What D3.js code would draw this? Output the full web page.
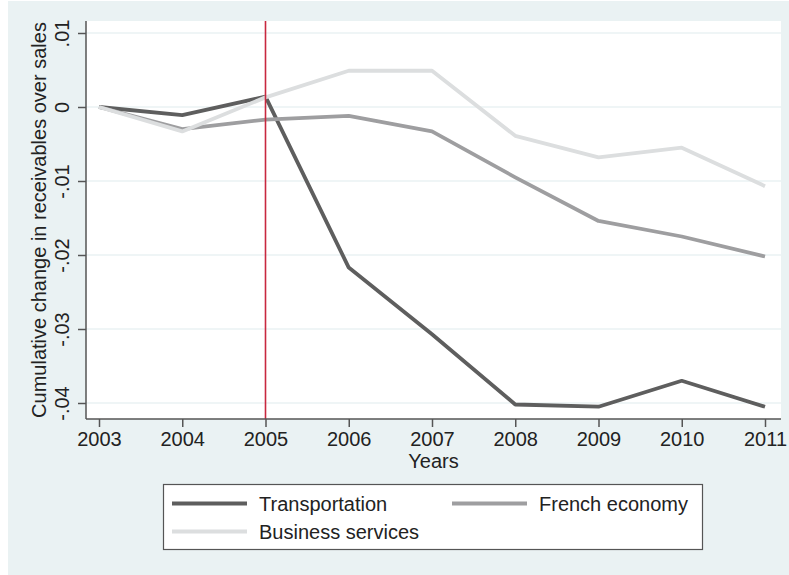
<!DOCTYPE html>
<html>
<head>
<meta charset="utf-8">
<script src="https://cdn.jsdelivr.net/npm/d3@7"></script>
<style>
    body { margin: 0; background: #ffffff; }
    svg { display: block; font-family: "Liberation Sans", Arial, sans-serif; }
</style>
</head>
<body>
<svg id="chart" width="789" height="575"></svg>
<script>
const years = [2003, 2004, 2005, 2006, 2007, 2008, 2009, 2010, 2011];
const transportation = [0, -0.0011, 0.0014, -0.0217, -0.0307, -0.0402, -0.0405, -0.0370, -0.0405];
const frenchEconomy = [0, -0.0030, -0.0017, -0.0012, -0.0033, -0.0095, -0.0154, -0.0175, -0.0202];
const businessServices = [0, -0.0033, 0.0013, 0.0049, 0.0049, -0.0039, -0.0068, -0.0055, -0.0107];
const yTicks = [-0.04, -0.03, -0.02, -0.01, 0, 0.01];
const yTickLabels = ["-.04", "-.03", "-.02", "-.01", "0", ".01"];
const eventYear = 2005;

const series = [
    { name: "Transportation", values: transportation, color: "#5e5e5e" },
    { name: "French economy", values: frenchEconomy, color: "#9e9ea0" },
    { name: "Business services", values: businessServices, color: "#dcdedf" },
];

const FONT = 20;

function renderChart() {
    const svg = d3.select("#chart");
    const plot = { left: 86, right: 781, top: 21, bottom: 419 };

    svg.append("rect")
        .attr("x", 8).attr("y", 1)
        .attr("width", 781).attr("height", 574)
        .attr("fill", "#eaf2f3");

    svg.append("rect")
        .attr("x", plot.left).attr("y", plot.top)
        .attr("width", plot.right - plot.left).attr("height", plot.bottom - plot.top)
        .attr("fill", "#ffffff");

    const x = d3.scaleLinear()
        .domain([2003, 2011])
        .range([99, 765]);

    const y = d3.scaleLinear()
        .domain([-0.04, 0.01])
        .range([403, 33]);

    // gridlines
    svg.append("g")
        .selectAll("line")
        .data(yTicks)
        .enter()
        .append("line")
        .attr("x1", plot.left)
        .attr("x2", plot.right)
        .attr("y1", (d) => y(d))
        .attr("y2", (d) => y(d))
        .attr("stroke", "#eaf2f3")
        .attr("stroke-width", 1.5);

    const line = d3.line()
        .x((d, i) => x(years[i]))
        .y((d) => y(d));

    series.forEach((s) => {
        svg.append("path")
            .datum(s.values)
            .attr("fill", "none")
            .attr("stroke", s.color)
            .attr("stroke-width", 3.8)
            .attr("stroke-linejoin", "round")
            .attr("d", line);
    });

    svg.append("line")
        .attr("x1", x(eventYear)).attr("x2", x(eventYear))
        .attr("y1", plot.top).attr("y2", plot.bottom)
        .attr("stroke", "#c8283f")
        .attr("stroke-width", 1.6);

    // y axis
    const yAxis = svg.append("g")
        .attr("transform", `translate(${plot.left},0)`)
        .call(d3.axisLeft(y).tickValues(yTicks).tickSize(8).tickFormat((d, i) => yTickLabels[i]));
    yAxis.select(".domain")
        .attr("d", `M0,${plot.top}V${plot.bottom}`)
        .attr("stroke", "#555555")
        .attr("stroke-width", 1.5);
    yAxis.selectAll(".tick line").attr("stroke", "#555555").attr("stroke-width", 1.5);
    yAxis.selectAll(".tick text")
        .attr("x", null).attr("dy", null)
        .attr("transform", "translate(-17,0) rotate(-90)")
        .attr("text-anchor", "middle")
        .attr("font-size", FONT)
        .attr("font-family", "Liberation Sans, Arial, sans-serif")
        .attr("fill", "#222222");

    // x axis
    const xAxis = svg.append("g")
        .attr("transform", `translate(0,${plot.bottom})`)
        .call(d3.axisBottom(x).tickValues(years).tickSize(8).tickFormat(d3.format("d")));
    xAxis.select(".domain")
        .attr("d", `M${plot.left},0H${plot.right}`)
        .attr("stroke", "#555555")
        .attr("stroke-width", 1.5);
    xAxis.selectAll(".tick line").attr("stroke", "#555555").attr("stroke-width", 1.5);
    xAxis.selectAll(".tick text")
        .attr("y", 27).attr("dy", null)
        .attr("font-size", FONT)
        .attr("font-family", "Liberation Sans, Arial, sans-serif")
        .attr("fill", "#222222");

    svg.append("text")
        .attr("x", (plot.left + plot.right) / 2)
        .attr("y", 468)
        .attr("text-anchor", "middle")
        .attr("font-size", FONT)
        .attr("fill", "#222222")
        .text("Years");

    svg.append("text")
        .attr("transform", `translate(46,${(plot.top + plot.bottom) / 2}) rotate(-90)`)
        .attr("text-anchor", "middle")
        .attr("font-size", FONT)
        .attr("fill", "#222222")
        .text("Cumulative change in receivables over sales");

    // legend
    const legend = svg.append("g");
    legend.append("rect")
        .attr("x", 163.5).attr("y", 484.5)
        .attr("width", 539).attr("height", 65)
        .attr("fill", "#ffffff")
        .attr("stroke", "#555555")
        .attr("stroke-width", 1.2);

    const legendSlots = [
        { x: 172, y: 503.5 },
        { x: 452, y: 503.5 },
        { x: 172, y: 531.5 },
    ];
    series.forEach((s, i) => {
        const slot = legendSlots[i];
        legend.append("line")
            .attr("x1", slot.x).attr("x2", slot.x + 75)
            .attr("y1", slot.y).attr("y2", slot.y)
            .attr("stroke", s.color)
            .attr("stroke-width", 4);
        legend.append("text")
            .attr("x", slot.x + 87)
            .attr("y", slot.y + 7)
            .attr("font-size", FONT)
            .attr("fill", "#222222")
            .text(s.name);
    });
}

renderChart();
</script>
</body>
</html>
